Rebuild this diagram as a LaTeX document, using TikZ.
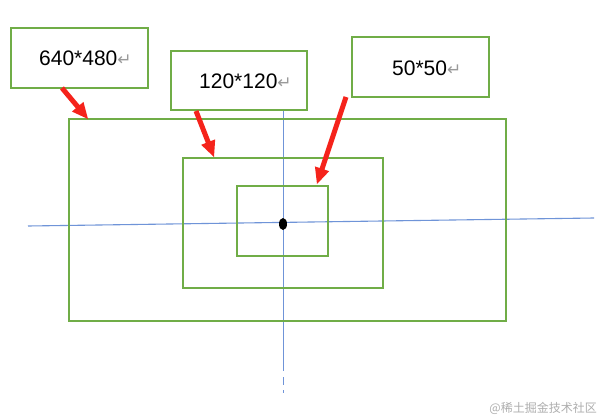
\documentclass[tikz,border=0pt]{standalone}
\usepackage{fontspec}
\setmainfont{Liberation Sans}
\newfontfamily\symfont{DejaVu Sans}
\newfontfamily\cjk{Noto Sans CJK SC}
\usetikzlibrary{calc}
\definecolor{boxgreen}{HTML}{70AD47}
\definecolor{axisblue}{HTML}{6F94D8}
\definecolor{arrowred}{HTML}{F5231B}
\definecolor{retgray}{HTML}{9A9A9A}
\tikzset{
  greenbox/.style={draw=boxgreen, line width=1.6pt},
  axis/.style={draw=axisblue, line width=1.1pt},
  lbl/.style={anchor=west, inner sep=0pt, font=\fontsize{21}{21}\selectfont},
}
\newcommand{\retsym}{{\symfont\color{retgray}\fontsize{17}{17}\selectfont ↵}}
\newcommand{\redarrow}[2]{%
  \fill[arrowred]
    ($(#1)!2.5pt!90:(#2)$) --
    ($($(#2)!16pt!(#1)$)!2.5pt!-90:(#1)$) --
    ($($(#2)!16pt!(#1)$)!7.5pt!-90:(#1)$) --
    (#2) --
    ($($(#2)!16pt!(#1)$)!7.5pt!90:(#1)$) --
    ($($(#2)!16pt!(#1)$)!2.5pt!90:(#1)$) --
    ($(#1)!2.5pt!-90:(#2)$) -- cycle;}
\begin{document}
\begin{tikzpicture}[x=1pt,y=-1pt]
\useasboundingbox[fill=white] (0,0) rectangle (602,420);
% axes
\coordinate (hl) at (28,226);
\coordinate (hr) at (594,218);
\coordinate (vt) at (283.5,110);
\coordinate (vb) at (283.5,371);
\draw[axis] (hl) -- (hr);
\draw[axis] (vt) -- (vb);
\draw[axis] (283.5,377) -- (283.5,385);
\draw[axis] (283.5,390) -- (283.5,393);
% rectangles
\node[greenbox, inner sep=0pt, minimum width=437pt, minimum height=202pt] (outer) at (287.5,220) {};
\node[greenbox, inner sep=0pt, minimum width=200pt, minimum height=130pt] (middle) at (283,223) {};
\node[greenbox, inner sep=0pt, minimum width=91pt, minimum height=70pt] (inner) at (282.5,221) {};
\fill[black] (283,224) ellipse (4pt and 6pt);
% label boxes
\node[greenbox, fill=white, inner sep=0pt, minimum width=137pt, minimum height=60pt] (b1) at (79.5,58) {};
\node[greenbox, fill=white, inner sep=0pt, minimum width=136pt, minimum height=59pt] (b2) at (239,80.5) {};
\node[greenbox, fill=white, inner sep=0pt, minimum width=137pt, minimum height=60pt] (b3) at (420.5,67) {};
\node[lbl] (t1) at (39,58) {640*480\retsym};
\node[lbl] (t2) at (199,81) {120*120\retsym};
\node[lbl] (t3) at (392,68) {50*50\retsym};
% arrows
\coordinate (a1s) at (62,88);
\coordinate (a1e) at (88,119);
\coordinate (a2s) at (196,111);
\coordinate (a2e) at (214,157);
\coordinate (a3s) at (346,97);
\coordinate (a3e) at (317,184);
\redarrow{a1s}{a1e}
\redarrow{a2s}{a2e}
\redarrow{a3s}{a3e}
% watermark
\node[anchor=east, inner sep=0pt, text=retgray!80, font=\cjk\fontsize{12}{12}\selectfont] (wm) at (597,408) {@稀土掘金技术社区};
\end{tikzpicture}
\end{document}
